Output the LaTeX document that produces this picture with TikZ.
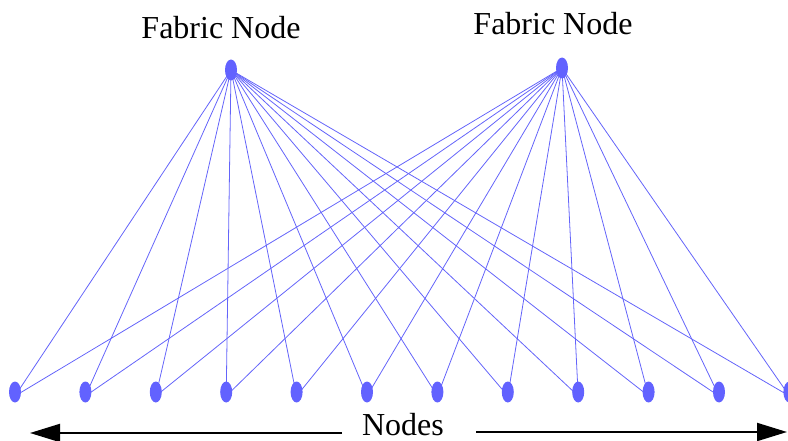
\documentclass[tikz,border=0pt]{standalone}
\usepackage{fontspec}
\setmainfont{Liberation Serif}
\usetikzlibrary{arrows.meta,shapes.geometric,backgrounds}
\definecolor{dotblue}{RGB}{98,98,255}
\definecolor{wireblue}{RGB}{100,100,250}
\tikzset{
  dot/.style={ellipse, fill=dotblue, draw=none, minimum width=12pt, minimum height=21pt, inner sep=0pt},
  wire/.style={wireblue, line width=0.8pt},
  label/.style={font=\fontsize{32}{32}\selectfont, anchor=base, inner sep=0pt},
  bigarrow/.style={line width=2pt, -{Triangle[length=30pt,width=18pt]}}
}
\begin{document}
\begin{tikzpicture}[x=1pt,y=-1pt]
\useasboundingbox (0,0) rectangle (788,441);
% fabric nodes
\node[dot] (f1) at (231,70) {};
\node[dot] (f2) at (562,68) {};
% end nodes along the bottom row
\foreach \i in {1,...,12} {
  \node[dot] (b\i) at ({15+70.4*(\i-1)},392) {};
}
% every fabric node connects to every end node
\begin{scope}[on background layer]
\foreach \i in {1,...,12} {
  \draw[wire] (f1.center) -- ([yshift=-4pt]b\i.center);
  \draw[wire] (f2.center) -- ([yshift=-4pt]b\i.center);
}
\end{scope}
% labels
\node[label] (t1) at (221,39) {Fabric Node};
\node[label] (t2) at (553,35) {Fabric Node};
\node[label] (tn) at (403,435) {Nodes};
% span arrows
\coordinate (la) at (342,433);
\coordinate (lb) at (30,433);
\coordinate (ra) at (476,432);
\coordinate (rb) at (787,432);
\draw[bigarrow] (la) -- (lb);
\draw[bigarrow] (ra) -- (rb);
\end{tikzpicture}
\end{document}
